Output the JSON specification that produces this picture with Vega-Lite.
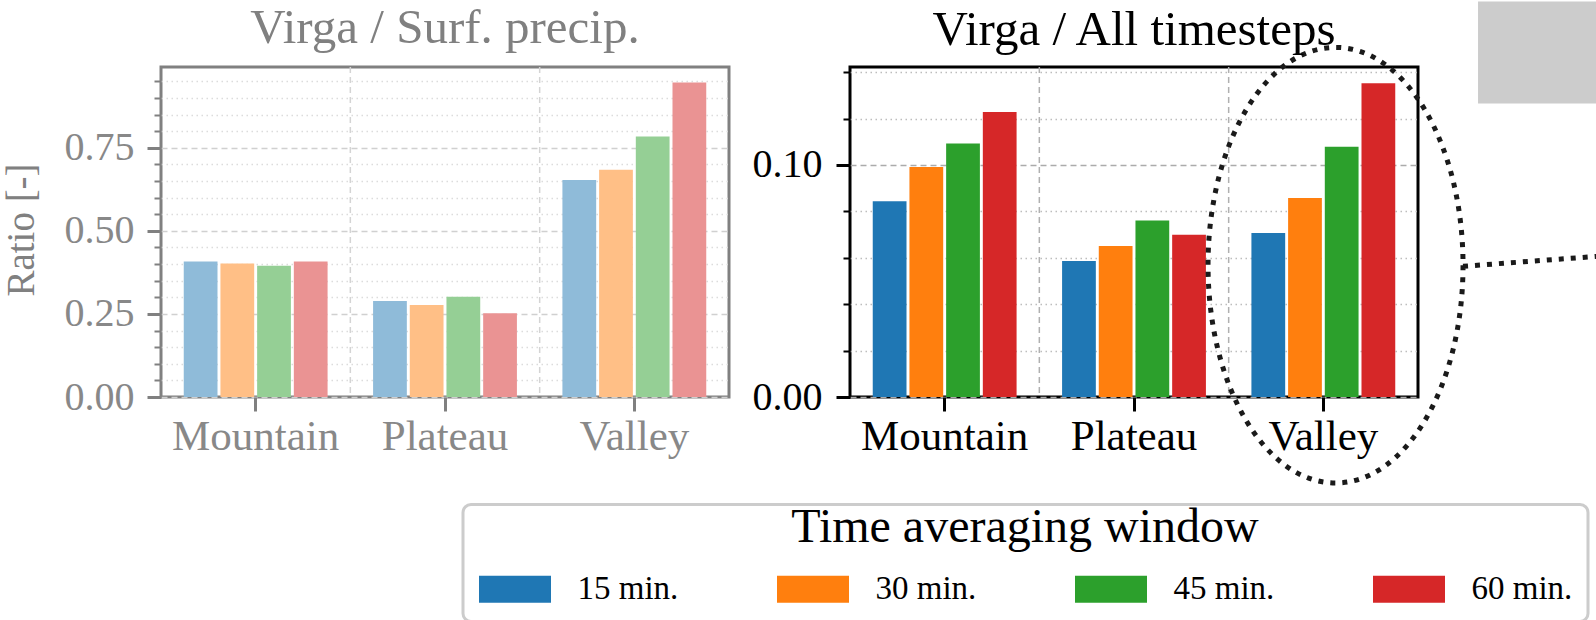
{
  "$schema": "https://vega.github.io/schema/vega-lite/v6.json",
  "background": "white",
  "padding": {"left": 0, "top": 0, "right": 0, "bottom": 0},
  "config": {"font": "Liberation Serif", "title": {"fontWeight": "normal"}, "legend": {"strokeWidth": 3, "strokeColor": "#cccccc", "cornerRadius": 8, "fillColor": "white", "padding": 15}},
  "datasets": {
    "bars": [
      {"region": "Mountain", "window": "15 min.", "surf": 0.408, "all": 0.0843},
      {"region": "Mountain", "window": "30 min.", "surf": 0.402, "all": 0.0991},
      {"region": "Mountain", "window": "45 min.", "surf": 0.395, "all": 0.1092},
      {"region": "Mountain", "window": "60 min.", "surf": 0.408, "all": 0.1228},
      {"region": "Plateau", "window": "15 min.", "surf": 0.289, "all": 0.0586},
      {"region": "Plateau", "window": "30 min.", "surf": 0.277, "all": 0.0651},
      {"region": "Plateau", "window": "45 min.", "surf": 0.302, "all": 0.0761},
      {"region": "Plateau", "window": "60 min.", "surf": 0.252, "all": 0.0699},
      {"region": "Valley", "window": "15 min.", "surf": 0.653, "all": 0.0707},
      {"region": "Valley", "window": "30 min.", "surf": 0.684, "all": 0.0857},
      {"region": "Valley", "window": "45 min.", "surf": 0.784, "all": 0.1078},
      {"region": "Valley", "window": "60 min.", "surf": 0.946, "all": 0.1352}
    ],
    "bounds": [{"region": "Plateau"}, {"region": "Valley"}],
    "anno": [{"region": "Valley", "level": 0.0568}]
  },
  "hconcat": [
    {
      "width": 568,
      "height": 330,
      "view": {"stroke": "#808080", "strokeWidth": 3},
      "title": {"text": "Virga / Surf. precip.", "fontSize": 49, "color": "#808080", "fontWeight": "normal", "baseline": "alphabetic", "offset": -30.7, "frame": "group", "anchor": "middle"},
      "layer": [
        {
          "data": {"name": "bounds"},
          "mark": {"type": "rule", "color": "#d4d4d4", "strokeWidth": 1.5, "strokeDash": [6, 4]},
          "encoding": {"x": {"field": "region", "type": "nominal", "bandPosition": 0, "title": null, "scale": {"paddingInner": 0, "paddingOuter": 0}}}
        },
        {
          "data": {"name": "bars"},
          "mark": {"type": "bar"},
          "encoding": {
            "x": {"field": "region", "type": "nominal", "title": null, "scale": {"paddingInner": 0, "paddingOuter": 0},
              "axis": {"labelAngle": 0, "labelAlign": "center", "labelBaseline": "top", "labelFontSize": 43, "labelColor": "#888888", "labelPadding": 4, "tickSize": 14, "tickWidth": 3, "tickColor": "#808080", "domain": false, "grid": false}},
            "xOffset": {"field": "window", "type": "nominal", "scale": {"paddingInner": 0.08, "paddingOuter": 0.62}},
            "y": {"field": "surf", "type": "quantitative", "title": "Ratio [-]", "scale": {"domain": [0, 0.993], "nice": false},
              "axis": {
                "values": [0, 0.05, 0.1, 0.15, 0.2, 0.25, 0.3, 0.35, 0.4, 0.45, 0.5, 0.55, 0.6, 0.65, 0.7, 0.75, 0.8, 0.85, 0.9, 0.95],
                "labelExpr": "abs(round(datum.value*4)-datum.value*4)<1e-6 ? format(datum.value,'.2f') : ''",
                "labelFontSize": 40, "labelColor": "#888888", "labelPadding": 13, "labelOverlap": false,
                "tickColor": "#808080",
                "tickSize": {"condition": {"test": "abs(round(datum.value*4)-datum.value*4)<1e-6", "value": 14}, "value": 7},
                "tickWidth": {"condition": {"test": "abs(round(datum.value*4)-datum.value*4)<1e-6", "value": 3}, "value": 2},
                "domain": false,
                "grid": true,
                "gridWidth": 1.5,
                "gridColor": {"condition": {"test": "abs(round(datum.value*4)-datum.value*4)<1e-6", "value": "#d0d0d0"}, "value": "#dcdcdc"},
                "gridDash": {"condition": {"test": "abs(round(datum.value*4)-datum.value*4)<1e-6", "value": [6, 4]}, "value": [1.5, 3.5]},
                "titleFontSize": 39, "titleLimit": 2000, "titleColor": "#808080", "titleFontWeight": "normal", "titleBaseline": "alphabetic", "titleX": -128, "titleY": 162.5
              }},
            "color": {"field": "window", "type": "nominal", "legend": null,
              "scale": {"domain": ["15 min.", "30 min.", "45 min.", "60 min."], "range": ["#8fbbd9", "#ffbf86", "#95cf95", "#ea9393"]}}
          }
        }
      ]
    },
    {
      "width": 568,
      "height": 330,
      "view": {"stroke": "black", "strokeWidth": 3},
      "title": {"text": "Virga / All timesteps", "fontSize": 49, "color": "black", "fontWeight": "normal", "baseline": "alphabetic", "offset": -92.5, "frame": "group", "anchor": "middle"},
      "layer": [
        {
          "data": {"name": "bounds"},
          "mark": {"type": "rule", "color": "#b0b0b0", "strokeWidth": 1.5, "strokeDash": [6, 4]},
          "encoding": {"x": {"field": "region", "type": "nominal", "bandPosition": 0, "title": null, "scale": {"paddingInner": 0, "paddingOuter": 0}}}
        },
        {
          "data": {"name": "bars"},
          "mark": {"type": "bar"},
          "encoding": {
            "x": {"field": "region", "type": "nominal", "title": null, "scale": {"paddingInner": 0, "paddingOuter": 0},
              "axis": {"labelAngle": 0, "labelAlign": "center", "labelBaseline": "top", "labelFontSize": 43, "labelColor": "black", "labelPadding": 4, "tickSize": 14, "tickWidth": 3, "tickColor": "black", "domain": false, "grid": false}},
            "xOffset": {"field": "window", "type": "nominal", "scale": {"paddingInner": 0.08, "paddingOuter": 0.62}},
            "y": {"field": "all", "type": "quantitative", "title": null, "scale": {"domain": [0, 0.1422], "nice": false},
              "axis": {
                "values": [0, 0.01, 0.02, 0.03, 0.04, 0.05, 0.06, 0.07, 0.08, 0.09, 0.1, 0.11, 0.12, 0.13, 0.14],
                "labelExpr": "abs(round(datum.value*20)-datum.value*20)<1e-6 ? format(datum.value,'.2f') : ''",
                "labelFontSize": 40, "labelColor": "black", "labelPadding": 14, "labelOverlap": false,
                "tickColor": "black",
                "tickSize": {"condition": {"test": "abs(round(datum.value*20)-datum.value*20)<1e-6", "value": 14}, "value": 7},
                "tickWidth": {"condition": {"test": "abs(round(datum.value*20)-datum.value*20)<1e-6", "value": 3}, "value": 2},
                "domain": false,
                "grid": true,
                "gridWidth": 1.5,
                "gridColor": {"condition": {"test": "abs(round(datum.value*20)-datum.value*20)<1e-6", "value": "#ababab"}, "value": "#bdbdbd"},
                "gridDash": {"condition": {"test": "abs(round(datum.value*20)-datum.value*20)<1e-6", "value": [6, 4]}, "value": [1.5, 3.5]}
              }},
            "color": {"field": "window", "type": "nominal",
              "scale": {"domain": ["15 min.", "30 min.", "45 min.", "60 min."], "range": ["#1f77b4", "#ff7f0e", "#2ca02c", "#d62728"]},
              "legend": {
                "title": "Time averaging window", "orient": "none", "legendX": -387, "legendY": 437.5,
                "direction": "horizontal", "columns": 4,
                "titleFontSize": 48, "titleFontWeight": "normal", "titleColor": "black", "titleAnchor": "middle", "titleLimit": 2000,
                "titleBaseline": "line-top", "titleLineHeight": 16, "titlePadding": 5,
                "labelFontSize": 33, "labelColor": "black", "labelOffset": 46, "labelLimit": 400,
                "symbolType": "M-2.6667,-1H2.6667V1H-2.6667Z", "symbolSize": 729, "symbolOffset": 20.5, "symbolStrokeWidth": 0, "symbolOpacity": 1,
                "columnPadding": 97, "rowPadding": 0
              }}
          }
        },
        {
          "data": {"name": "anno"},
          "mark": {"type": "point", "shape": "M0.7103,-1.2103H1.278V-0.7429H0.7103Z", "size": 189747, "filled": true, "fill": "#cccccc", "strokeWidth": 0, "opacity": 1},
          "encoding": {
            "x": {"field": "region", "type": "nominal", "title": null},
            "y": {"field": "level", "type": "quantitative", "title": null}
          }
        },
        {
          "data": {"name": "anno"},
          "mark": {"type": "point", "shape": "M0.6414,0C0.6414,0.5523,0.3793,1,0.056,1C-0.2673,1,-0.5294,0.5523,-0.5294,0C-0.5294,-0.5523,-0.2673,-1,0.056,-1C0.3793,-1,0.6414,-0.5523,0.6414,0ZM0.6414,0.005L1.265,-0.041", "size": 189747, "filled": false, "stroke": "#1a1a1a", "strokeWidth": 5, "strokeDash": [5, 7], "opacity": 1},
          "encoding": {
            "x": {"field": "region", "type": "nominal", "title": null},
            "y": {"field": "level", "type": "quantitative", "title": null}
          }
        }
      ]
    }
  ],
  "resolve": {"scale": {"color": "independent"}, "legend": {"color": "independent"}},
  "spacing": 121,
  "bounds": "flush"
}
